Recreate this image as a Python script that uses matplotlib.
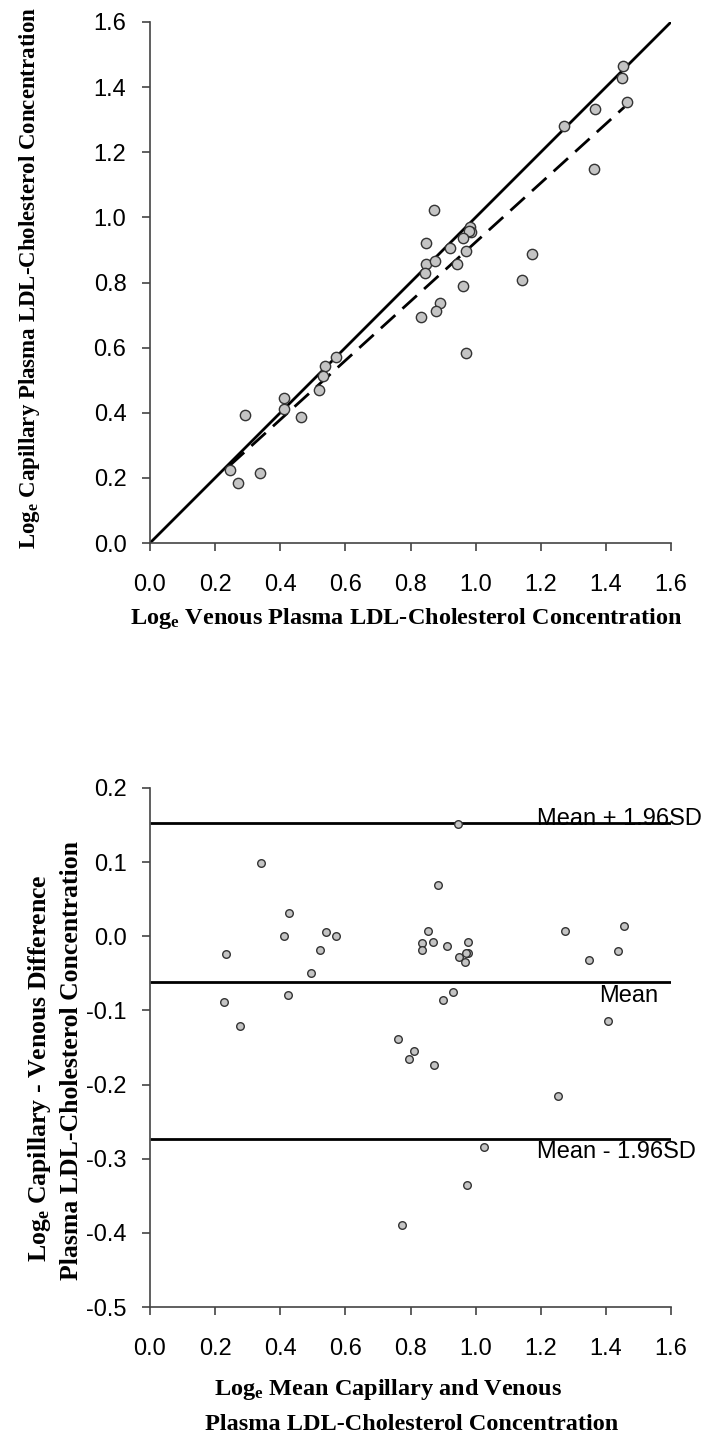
import matplotlib
matplotlib.use("Agg")
import matplotlib.pyplot as plt

# ---- Data: top panel (log venous vs log capillary) ----
venous = [1.452, 1.449, 1.466, 1.366, 1.271, 1.365, 0.871, 0.983, 0.985, 0.981,
          0.962, 0.849, 0.921, 0.970, 1.173, 0.849, 0.876, 0.943, 0.844, 1.141,
          0.962, 0.892, 0.879, 0.833, 0.969, 0.571, 0.536, 0.531, 0.519, 0.412,
          0.412, 0.464, 0.292, 0.247, 0.269, 0.338]
capillary = [1.464, 1.428, 1.353, 1.334, 1.280, 1.149, 1.022, 0.971, 0.955, 0.958,
             0.936, 0.920, 0.907, 0.897, 0.889, 0.858, 0.866, 0.858, 0.828, 0.807,
             0.789, 0.737, 0.713, 0.694, 0.583, 0.571, 0.543, 0.512, 0.471, 0.446,
             0.413, 0.386, 0.392, 0.224, 0.183, 0.215]
identity_x = [0.0, 1.6]
identity_y = [0.0, 1.6]
reg_x = [0.245, 1.457]
reg_y = [0.238, 1.339]

# ---- Data: bottom panel (Bland-Altman) ----
ba_mean = [0.946, 0.341, 0.885, 0.428, 0.411, 0.540, 0.571, 0.234, 0.522, 0.494,
           0.853, 0.836, 0.836, 0.870, 0.913, 0.978, 0.978, 0.969, 0.948, 0.967,
           1.273, 1.457, 1.437, 1.348, 0.226, 0.424, 0.932, 0.899,
           0.276, 1.407, 0.762, 0.812, 0.794, 0.873, 1.254, 1.026, 0.972, 0.774]
ba_diff = [0.1516, 0.0994, 0.0697, 0.0319, 0.0, 0.0054, 0.0, -0.0238, -0.0184, -0.049,
           0.0076, -0.0094, -0.0184, -0.0081, -0.0126, -0.0081, -0.0229, -0.0229, -0.0274, -0.0342,
           0.0076, 0.0135, -0.0193, -0.0319, -0.0882, -0.0792, -0.0751, -0.0859,
           -0.1207, -0.114, -0.139, -0.1545, -0.166, -0.174, -0.215, -0.284, -0.335, -0.389]
limit_values = [0.1525, -0.0612, -0.274]
limit_labels = ["Mean + 1.96SD", "Mean", "Mean - 1.96SD"]

xticks = [0.0, 0.2, 0.4, 0.6, 0.8, 1.0, 1.2, 1.4, 1.6]
yticks_top = [0.0, 0.2, 0.4, 0.6, 0.8, 1.0, 1.2, 1.4, 1.6]
yticks_bot = [-0.5, -0.4, -0.3, -0.2, -0.1, 0.0, 0.1, 0.2]

plt.rcParams['mathtext.fontset'] = 'custom'
plt.rcParams['mathtext.rm'] = 'Liberation Serif:bold'
plt.rcParams['mathtext.it'] = 'Liberation Serif:bold'
plt.rcParams['mathtext.bf'] = 'Liberation Serif:bold'

TICK_FS = 17
SANS = 'Liberation Sans'
SERIF = 'Liberation Serif'

W, H = 706, 1441
fig = plt.figure(figsize=(W / 100, H / 100), dpi=100)

def px(x, y):
    return x / W, 1 - y / H

def style_axes(ax):
    for s in ['top', 'right']:
        ax.spines[s].set_visible(False)
    for s in ['left', 'bottom']:
        ax.spines[s].set_color('#444444')
        ax.spines[s].set_linewidth(1.2)
    ax.tick_params(direction='out', length=6, width=1.2, color='#444444')
    ax.tick_params(axis='x', pad=16)
    ax.tick_params(axis='y', pad=11)
    for lab in ax.get_xticklabels() + ax.get_yticklabels():
        lab.set_fontfamily(SANS)
        lab.set_fontsize(TICK_FS)

# ---- Top panel ----
ax1 = fig.add_axes([150 / W, 1 - 543 / H, 521 / W, 521 / H])
ax1.plot(identity_x, identity_y, color='black', lw=2.0, solid_capstyle='butt')
ax1.plot(reg_x, reg_y, color='black', lw=2.0, linestyle=(0, (7, 3.5)))
ax1.scatter(venous, capillary, s=55, facecolor='#c4c4c4', edgecolor='#333333',
            linewidth=1.0, zorder=3, clip_on=False)
ax1.set_xlim(0, 1.6)
ax1.set_ylim(0, 1.6)
ax1.set_xticks(xticks)
ax1.set_yticks(yticks_top)
ax1.set_xticklabels([f"{v:.1f}" for v in xticks])
ax1.set_yticklabels([f"{v:.1f}" for v in yticks_top])
style_axes(ax1)

fig.text(*px(406, 618), r"Log$_{\mathrm{e}}$ Venous Plasma LDL-Cholesterol Concentration",
         ha='center', va='center', fontfamily=SERIF, fontweight='bold', fontsize=17.5)
fig.text(*px(30, 278), r"Log$_{\mathrm{e}}$ Capillary Plasma LDL-Cholesterol Concentration",
         ha='center', va='center', rotation=90, fontfamily=SERIF, fontweight='bold',
         fontsize=16.5)

# ---- Bottom panel ----
ax2 = fig.add_axes([150 / W, 1 - 1307 / H, 521 / W, 519 / H])
for v in limit_values:
    ax2.plot([0, 1.6], [v, v], color='black', lw=2.0, solid_capstyle='butt')
ax2.scatter(ba_mean, ba_diff, s=30, facecolor='#c4c4c4', edgecolor='#333333',
            linewidth=1.0, zorder=3)
ax2.text(1.19, limit_values[0] - 0.002, limit_labels[0], ha='left', va='baseline',
         fontfamily=SANS, fontsize=17, clip_on=False)
ax2.text(1.38, limit_values[1] - 0.004, limit_labels[1], ha='left', va='top',
         fontfamily=SANS, fontsize=17)
ax2.text(1.19, limit_values[2] - 0.002, limit_labels[2], ha='left', va='top',
         fontfamily=SANS, fontsize=17, clip_on=False)
ax2.set_xlim(0, 1.6)
ax2.set_ylim(-0.5, 0.2)
ax2.set_xticks(xticks)
ax2.set_yticks(yticks_bot)
ax2.set_xticklabels([f"{v:.1f}" for v in xticks])
ax2.set_yticklabels([f"{v:.1f}" for v in yticks_bot])
style_axes(ax2)

fig.text(*px(388, 1390), r"Log$_{\mathrm{e}}$ Mean Capillary and Venous",
         ha='center', va='center', fontfamily=SERIF, fontweight='bold', fontsize=17.5)
fig.text(*px(412, 1425), "Plasma LDL-Cholesterol Concentration",
         ha='center', va='center', fontfamily=SERIF, fontweight='bold', fontsize=17.5)
fig.text(*px(40, 1068), r"Log$_{\mathrm{e}}$ Capillary - Venous Difference",
         ha='center', va='center', rotation=90, fontfamily=SERIF, fontweight='bold',
         fontsize=18.5)
fig.text(*px(72, 1060), "Plasma LDL-Cholesterol Concentration",
         ha='center', va='center', rotation=90, fontfamily=SERIF, fontweight='bold',
         fontsize=18.5)

fig.savefig("out.png", dpi=100)
